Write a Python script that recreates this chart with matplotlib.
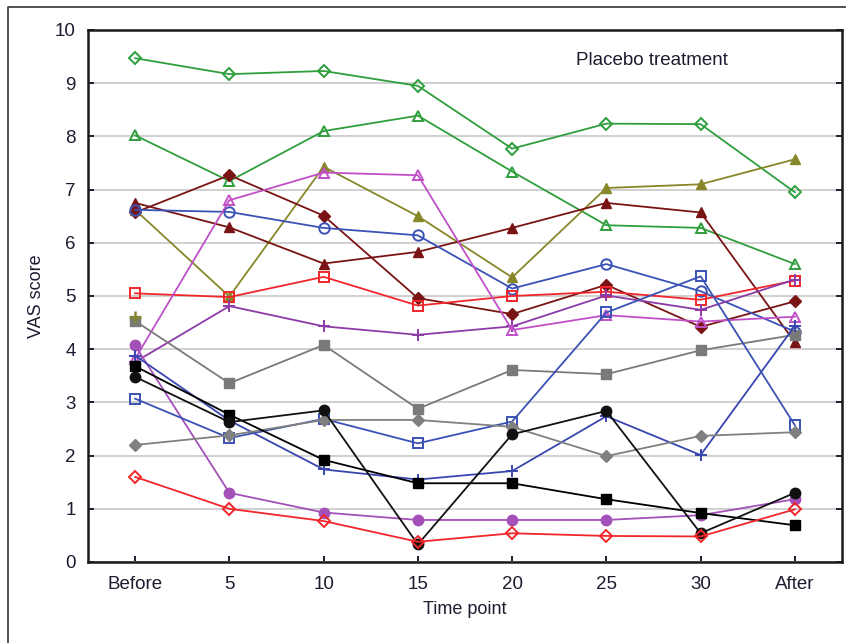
import matplotlib
matplotlib.use("Agg")
import matplotlib.pyplot as plt
from matplotlib.lines import Line2D

plt.rcParams['font.family'] = ['Liberation Sans', 'DejaVu Sans']

time_points = ["Before", "5", "10", "15", "20", "25", "30", "After"]

green_diamond = [9.47, 9.17, 9.23, 8.95, 7.77, 8.24, 8.23, 6.95]
green_triangle = [8.02, 7.16, 8.10, 8.39, 7.34, 6.33, 6.28, 5.60]
olive_triangle = [6.62, 4.99, 7.43, 6.50, 5.35, 7.03, 7.10, 7.57]
maroon_triangle = [6.75, 6.29, 5.61, 5.83, 6.28, 6.75, 6.57, 4.13]
maroon_diamond = [6.57, 7.27, 6.51, 4.96, 4.66, 5.21, 4.42, 4.90]
blue_circle = [6.62, 6.58, 6.28, 6.14, 5.14, 5.60, 5.09, 4.33]
red_square = [5.05, 4.98, 5.36, 4.82, 5.00, 5.08, 4.93, 5.29]
purple_plus = [3.76, 4.81, 4.43, 4.27, 4.43, 5.01, 4.74, 5.31]
magenta_triangle = [3.82, 6.80, 7.32, 7.27, 4.36, 4.64, 4.52, 4.61]
gray_square = [4.53, 3.36, 4.08, 2.88, 3.61, 3.53, 3.98, 4.27]
magenta_circle = [4.07, 1.30, 0.93, 0.79, 0.79, 0.79, 0.88, 1.18]
blue_star = [3.88, 2.66, 1.74, 1.55, 1.71, 2.74, 2.01, 4.44]
blue_square = [3.07, 2.33, 2.69, 2.23, 2.64, 4.69, 5.37, 2.57]
gray_diamond = [2.20, 2.38, 2.67, 2.67, 2.54, 1.99, 2.37, 2.44]
black_square = [3.68, 2.77, 1.92, 1.48, 1.48, 1.18, 0.92, 0.69]
black_circle = [3.48, 2.63, 2.85, 0.33, 2.40, 2.84, 0.54, 1.30]
red_diamond = [1.60, 1.00, 0.77, 0.38, 0.54, 0.49, 0.48, 0.99]
olive_plus_before = [4.60]

series = [
    (green_diamond, "#2f9e3c", "D", "none"),
    (green_triangle, "#2f9e3c", "^", "none"),
    (olive_triangle, "#87872a", "^", "full"),
    (maroon_triangle, "#7a1414", "^", "full"),
    (maroon_diamond, "#7a1414", "D", "full"),
    (blue_circle, "#3a52b5", "o", "none"),
    (red_square, "#f2262a", "s", "none"),
    (purple_plus, "#8c3aa8", "+", "full"),
    (magenta_triangle, "#c050c8", "^", "none"),
    (gray_square, "#7a7a7a", "s", "full"),
    (magenta_circle, "#a350b8", "o", "full"),
    (blue_star, "#3a46b0", "+", "full"),
    (blue_square, "#3a52b5", "s", "none"),
    (gray_diamond, "#808080", "D", "full"),
    (black_square, "#000000", "s", "full"),
    (black_circle, "#111111", "o", "full"),
    (red_diamond, "#f2262a", "D", "none"),
]

fig = plt.figure(figsize=(8.46, 6.43), dpi=100)
ax = fig.add_axes([88 / 846, 81 / 643, 754 / 846, 532 / 643])

x = list(range(len(time_points)))
for vals, color, marker, fill in series:
    ms = 9 if marker == "+" else (6.5 if marker == "D" else 7.5)
    ax.plot(x, vals, color=color, lw=1.3, marker=marker, ms=ms,
            fillstyle=fill, mew=1.4 if fill == "none" or marker == "+" else 1,
            markerfacecolor="white" if fill == "none" else color)

ax.plot([0], olive_plus_before, color="#87872a", marker="+", ms=9, mew=1.8, lw=0)

ax.set_xlim(-0.5, 7.5)
ax.set_ylim(0, 10)
ax.set_xticks(x)
ax.set_xticklabels(time_points)
ax.set_yticks(range(0, 11))
ax.yaxis.grid(True, color="#d0d0d0", lw=1.4)
ax.set_axisbelow(True)

txt = "#1c1c30"
ax.tick_params(direction="in", length=4, width=1.4, labelsize=13.5, colors=txt,
               top=False, right=True)
ax.tick_params(axis="x", pad=10)
ax.tick_params(axis="y", pad=9)
for s in ax.spines.values():
    s.set_linewidth(1.8)
    s.set_color("#1a1a1a")

ax.set_xlabel("Time point", fontsize=13, color=txt, labelpad=6)
ax.set_ylabel("VAS score", fontsize=13, color=txt, labelpad=7)
ax.text(4.68, 9.42, "Placebo treatment", fontsize=13.5, color=txt, va="center")

# outer frame of the original figure
fig.add_artist(Line2D([8 / 846, 8 / 846, 1.0], [0, 1 - 7 / 643, 1 - 7 / 643],
                      transform=fig.transFigure, color="#333333", lw=1.2))

fig.savefig("out.png", dpi=100)
